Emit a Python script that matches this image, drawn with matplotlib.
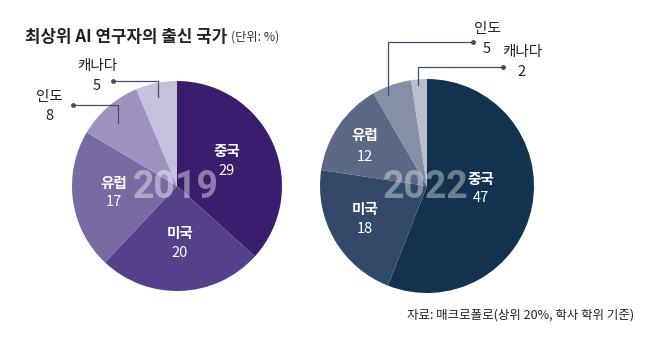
import matplotlib.pyplot as plt

plt.rcParams['font.family'] = ['Noto Sans CJK KR', 'DejaVu Sans']

W, H = 658, 351

countries = ['중국', '미국', '유럽', '인도', '캐나다']
share_2019 = [29, 20, 17, 8, 5]
share_2022 = [47, 18, 12, 5, 2]

colors_2019 = ['#3b1d6e', '#55418b', '#7a6aa3', '#9e93c0', '#c6c0dc']
colors_2022 = ['#12324f', '#33496a', '#5b6886', '#878fa7', '#b9bdcc']


def Y(y):
    # pixel row (from top) -> data y
    return H - y


fig = plt.figure(figsize=(W / 100, H / 100), dpi=100)
ax = fig.add_axes([0, 0, 1, 1])

# pies
ax.pie(share_2019, colors=colors_2019, startangle=90, counterclock=False,
       center=(177, Y(186)), radius=105, frame=True,
       wedgeprops=dict(linewidth=0))
ax.pie(share_2022, colors=colors_2022, startangle=90, counterclock=False,
       center=(427, Y(186)), radius=107, frame=True,
       wedgeprops=dict(linewidth=0))

ax.set_xlim(0, W)
ax.set_ylim(0, H)
ax.axis('off')

# big year labels
ax.text(176, Y(188), '2019', ha='center', va='center', fontsize=27,
        fontweight='bold', family='Roboto', color='white', alpha=0.42)
ax.text(426, Y(187), '2022', ha='center', va='center', fontsize=27,
        fontweight='bold', family='Roboto', color='white', alpha=0.38)

# inside labels
inside = [
    # (name, value, x, y_name, y_value)
    (countries[0], share_2019[0], 227, 151, 171),
    (countries[1], share_2019[1], 180, 233, 253),
    (countries[2], share_2019[2], 114, 183, 202),
    (countries[0], share_2022[0], 481, 179, 198),
    (countries[1], share_2022[1], 365, 209, 229),
    (countries[2], share_2022[2], 365, 135, 157),
]
for name, val, x, yn, yv in inside:
    ax.text(x, Y(yn), name, ha='center', va='center', fontsize=10.5,
            fontweight='bold', color='white')
    ax.text(x, Y(yv), str(val), ha='center', va='center', fontsize=10.5,
            color='white')

# callouts for small slices
callouts = [
    # (name, value, text x, name y, value y, dot (x,y), corner x, line end y, colour)
    (countries[4], share_2019[4], 97, 66, 86, (113, 81), 158, 97, '#4a4a5a'),
    (countries[3], share_2019[3], 49, 97, 116, (73, 105), 118, 123, '#4a4a5a'),
    (countries[3], share_2022[3], 487, 29, 49, (473, 42), 388, 95, '#3f5068'),
    (countries[4], share_2022[4], 522, 52, 72, (503, 67), 418, 85, '#3f5068'),
]
for name, val, tx, yn, yv, (dx, dy), cx, ey, col in callouts:
    ax.text(tx, Y(yn), name, ha='center', va='center', fontsize=10.5,
            color='#222222')
    ax.text(tx, Y(yv), str(val), ha='center', va='center', fontsize=10.5,
            color='#222222')
    ax.plot([dx, cx, cx], [Y(dy), Y(dy), Y(ey)], color=col, lw=0.9,
            solid_joinstyle='miter')
    ax.plot([dx], [Y(dy)], 'o', ms=2.5, color=col)

# title
ax.text(25, Y(37), '최상위 AI 연구자의 출신 국가', ha='left', va='center',
        fontsize=12.1, fontweight='bold', color='#222222')
ax.text(231, Y(37), '(단위: %)', ha='left', va='center', fontsize=8.8,
        color='#333333')

# source
ax.text(634, Y(315), '자료: 매크로폴로(상위 20%, 학사 학위 기준)', ha='right',
        va='center', fontsize=9, color='#222222')

fig.savefig('out.png', dpi=100)
